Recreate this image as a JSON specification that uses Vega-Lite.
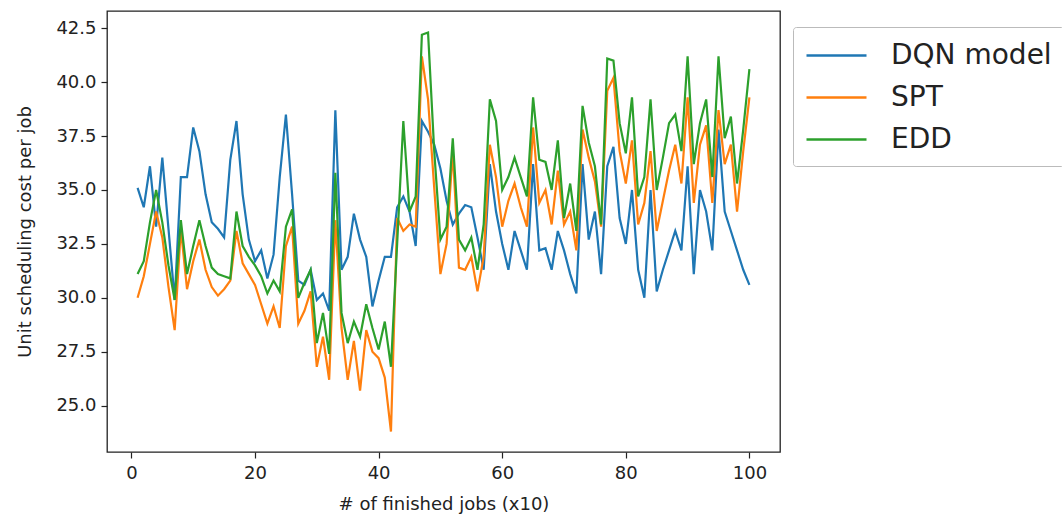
{
  "$schema": "https://vega.github.io/schema/vega-lite/v6.json",
  "width": 673,
  "height": 441,
  "autosize": {"type": "none"},
  "padding": {"left": 107, "top": 11, "right": 282, "bottom": 66},
  "background": "white",
  "config": {
    "font": "DejaVu Sans",
    "view": {"stroke": "#222", "strokeWidth": 1.3},
    "axis": {
      "grid": false,
      "domain": false,
      "tickColor": "#222",
      "tickSize": 6,
      "tickWidth": 1.2,
      "labelFont": "DejaVu Sans",
      "labelFontSize": 18,
      "labelColor": "#222",
      "titleFont": "DejaVu Sans",
      "titleFontSize": 18,
      "titleFontWeight": "normal",
      "titleColor": "#222"
    }
  },
  "data": {
    "values": [
      {"x": 1, "DQN model": 35.1, "SPT": 30.0, "EDD": 31.1},
      {"x": 2, "DQN model": 34.2, "SPT": 31.0, "EDD": 31.7},
      {"x": 3, "DQN model": 36.1, "SPT": 32.5, "EDD": 33.5},
      {"x": 4, "DQN model": 33.3, "SPT": 34.0, "EDD": 35.0},
      {"x": 5, "DQN model": 36.5, "SPT": 32.8, "EDD": 33.5},
      {"x": 6, "DQN model": 33.2, "SPT": 30.5, "EDD": 31.5},
      {"x": 7, "DQN model": 29.9, "SPT": 28.5, "EDD": 29.9},
      {"x": 8, "DQN model": 35.6, "SPT": 33.2, "EDD": 33.6},
      {"x": 9, "DQN model": 35.6, "SPT": 30.4, "EDD": 31.1},
      {"x": 10, "DQN model": 37.9, "SPT": 31.7, "EDD": 32.4},
      {"x": 11, "DQN model": 36.8, "SPT": 32.7, "EDD": 33.6},
      {"x": 12, "DQN model": 34.8, "SPT": 31.3, "EDD": 32.4},
      {"x": 13, "DQN model": 33.5, "SPT": 30.5, "EDD": 31.4},
      {"x": 14, "DQN model": 33.2, "SPT": 30.1, "EDD": 31.1},
      {"x": 15, "DQN model": 32.8, "SPT": 30.4, "EDD": 31.0},
      {"x": 16, "DQN model": 36.4, "SPT": 30.8, "EDD": 30.9},
      {"x": 17, "DQN model": 38.2, "SPT": 33.1, "EDD": 34.0},
      {"x": 18, "DQN model": 34.8, "SPT": 31.6, "EDD": 32.4},
      {"x": 19, "DQN model": 32.7, "SPT": 31.1, "EDD": 31.9},
      {"x": 20, "DQN model": 31.7, "SPT": 30.6, "EDD": 31.5},
      {"x": 21, "DQN model": 32.2, "SPT": 29.7, "EDD": 31.0},
      {"x": 22, "DQN model": 30.9, "SPT": 28.8, "EDD": 30.2},
      {"x": 23, "DQN model": 32.0, "SPT": 29.6, "EDD": 30.8},
      {"x": 24, "DQN model": 35.6, "SPT": 28.6, "EDD": 30.3},
      {"x": 25, "DQN model": 38.5, "SPT": 32.4, "EDD": 33.3},
      {"x": 26, "DQN model": 34.8, "SPT": 33.3, "EDD": 34.1},
      {"x": 27, "DQN model": 30.8, "SPT": 28.8, "EDD": 30.0},
      {"x": 28, "DQN model": 30.6, "SPT": 29.4, "EDD": 30.7},
      {"x": 29, "DQN model": 31.3, "SPT": 30.3, "EDD": 31.3},
      {"x": 30, "DQN model": 29.9, "SPT": 26.8, "EDD": 27.9},
      {"x": 31, "DQN model": 30.2, "SPT": 28.2, "EDD": 29.3},
      {"x": 32, "DQN model": 29.4, "SPT": 26.2, "EDD": 27.4},
      {"x": 33, "DQN model": 38.7, "SPT": 33.6, "EDD": 35.8},
      {"x": 34, "DQN model": 31.3, "SPT": 28.6, "EDD": 29.3},
      {"x": 35, "DQN model": 31.9, "SPT": 26.2, "EDD": 27.9},
      {"x": 36, "DQN model": 33.9, "SPT": 28.0, "EDD": 28.9},
      {"x": 37, "DQN model": 32.7, "SPT": 25.7, "EDD": 28.2},
      {"x": 38, "DQN model": 31.9, "SPT": 28.5, "EDD": 29.7},
      {"x": 39, "DQN model": 29.6, "SPT": 27.5, "EDD": 28.6},
      {"x": 40, "DQN model": 30.8, "SPT": 27.2, "EDD": 27.6},
      {"x": 41, "DQN model": 31.9, "SPT": 26.3, "EDD": 28.9},
      {"x": 42, "DQN model": 31.9, "SPT": 23.8, "EDD": 26.8},
      {"x": 43, "DQN model": 34.2, "SPT": 33.7, "EDD": 32.5},
      {"x": 44, "DQN model": 34.7, "SPT": 33.1, "EDD": 38.2},
      {"x": 45, "DQN model": 34.0, "SPT": 33.4, "EDD": 34.0},
      {"x": 46, "DQN model": 32.4, "SPT": 33.3, "EDD": 34.7},
      {"x": 47, "DQN model": 38.2, "SPT": 41.2, "EDD": 42.2},
      {"x": 48, "DQN model": 37.7, "SPT": 39.2, "EDD": 42.3},
      {"x": 49, "DQN model": 37.1, "SPT": 35.1, "EDD": 36.8},
      {"x": 50, "DQN model": 36.0, "SPT": 31.1, "EDD": 32.7},
      {"x": 51, "DQN model": 34.5, "SPT": 32.5, "EDD": 33.3},
      {"x": 52, "DQN model": 33.4, "SPT": 36.8, "EDD": 37.4},
      {"x": 53, "DQN model": 33.9, "SPT": 31.4, "EDD": 32.7},
      {"x": 54, "DQN model": 34.3, "SPT": 31.3, "EDD": 32.2},
      {"x": 55, "DQN model": 34.2, "SPT": 31.9, "EDD": 32.8},
      {"x": 56, "DQN model": 32.8, "SPT": 30.3, "EDD": 31.3},
      {"x": 57, "DQN model": 31.3, "SPT": 31.9, "EDD": 33.4},
      {"x": 58, "DQN model": 36.2, "SPT": 37.1, "EDD": 39.2},
      {"x": 59, "DQN model": 34.0, "SPT": 35.6, "EDD": 38.2},
      {"x": 60, "DQN model": 32.5, "SPT": 33.3, "EDD": 35.0},
      {"x": 61, "DQN model": 31.3, "SPT": 34.5, "EDD": 35.6},
      {"x": 62, "DQN model": 33.1, "SPT": 35.3, "EDD": 36.5},
      {"x": 63, "DQN model": 32.2, "SPT": 34.2, "EDD": 35.6},
      {"x": 64, "DQN model": 31.3, "SPT": 33.3, "EDD": 34.7},
      {"x": 65, "DQN model": 36.2, "SPT": 37.9, "EDD": 39.3},
      {"x": 66, "DQN model": 32.2, "SPT": 34.4, "EDD": 36.4},
      {"x": 67, "DQN model": 32.3, "SPT": 35.0, "EDD": 36.3},
      {"x": 68, "DQN model": 31.3, "SPT": 33.4, "EDD": 35.0},
      {"x": 69, "DQN model": 33.1, "SPT": 35.9, "EDD": 37.3},
      {"x": 70, "DQN model": 32.2, "SPT": 33.4, "EDD": 33.7},
      {"x": 71, "DQN model": 31.1, "SPT": 34.0, "EDD": 35.3},
      {"x": 72, "DQN model": 30.2, "SPT": 32.2, "EDD": 33.1},
      {"x": 73, "DQN model": 36.2, "SPT": 37.8, "EDD": 38.9},
      {"x": 74, "DQN model": 32.7, "SPT": 36.5, "EDD": 37.2},
      {"x": 75, "DQN model": 34.0, "SPT": 35.4, "EDD": 36.1},
      {"x": 76, "DQN model": 31.1, "SPT": 33.3, "EDD": 33.4},
      {"x": 77, "DQN model": 36.1, "SPT": 39.6, "EDD": 41.1},
      {"x": 78, "DQN model": 37.0, "SPT": 40.2, "EDD": 41.0},
      {"x": 79, "DQN model": 33.7, "SPT": 36.8, "EDD": 38.1},
      {"x": 80, "DQN model": 32.5, "SPT": 35.3, "EDD": 36.7},
      {"x": 81, "DQN model": 35.0, "SPT": 37.3, "EDD": 39.3},
      {"x": 82, "DQN model": 31.3, "SPT": 33.4, "EDD": 34.7},
      {"x": 83, "DQN model": 30.0, "SPT": 34.4, "EDD": 35.6},
      {"x": 84, "DQN model": 35.0, "SPT": 36.8, "EDD": 39.2},
      {"x": 85, "DQN model": 30.3, "SPT": 33.1, "EDD": 35.0},
      {"x": 86, "DQN model": 31.3, "SPT": 34.5, "EDD": 36.5},
      {"x": 87, "DQN model": 32.2, "SPT": 35.9, "EDD": 38.1},
      {"x": 88, "DQN model": 33.1, "SPT": 37.1, "EDD": 38.5},
      {"x": 89, "DQN model": 32.2, "SPT": 35.3, "EDD": 36.8},
      {"x": 90, "DQN model": 36.1, "SPT": 39.3, "EDD": 41.2},
      {"x": 91, "DQN model": 31.1, "SPT": 34.4, "EDD": 36.2},
      {"x": 92, "DQN model": 35.0, "SPT": 37.1, "EDD": 38.1},
      {"x": 93, "DQN model": 34.0, "SPT": 38.0, "EDD": 39.2},
      {"x": 94, "DQN model": 32.2, "SPT": 34.4, "EDD": 35.6},
      {"x": 95, "DQN model": 37.8, "SPT": 38.7, "EDD": 41.2},
      {"x": 96, "DQN model": 34.0, "SPT": 36.2, "EDD": 37.4},
      {"x": 97, "DQN model": 33.1, "SPT": 37.1, "EDD": 38.4},
      {"x": 98, "DQN model": 32.2, "SPT": 34.0, "EDD": 35.3},
      {"x": 99, "DQN model": 31.3, "SPT": 36.8, "EDD": 37.8},
      {"x": 100, "DQN model": 30.6, "SPT": 39.3, "EDD": 40.6}
    ]
  },
  "transform": [
    {"fold": ["DQN model", "SPT", "EDD"], "as": ["series", "cost"]}
  ],
  "mark": {"type": "line", "strokeWidth": 2.2, "clip": true},
  "encoding": {
    "x": {
      "field": "x",
      "type": "quantitative",
      "scale": {"domain": [-3.95, 104.95], "nice": false, "zero": false},
      "axis": {"values": [0, 20, 40, 60, 80, 100], "title": "# of finished jobs (x10)", "labelPadding": 6, "titlePadding": 13}
    },
    "y": {
      "field": "cost",
      "type": "quantitative",
      "scale": {"domain": [22.85, 43.3], "nice": false, "zero": false},
      "axis": {"values": [25, 27.5, 30, 32.5, 35, 37.5, 40, 42.5], "format": ".1f", "title": "Unit scheduling cost per job", "labelPadding": 5, "titlePadding": 21}
    },
    "color": {
      "field": "series",
      "type": "nominal",
      "sort": ["DQN model", "SPT", "EDD"],
      "scale": {"domain": ["DQN model", "SPT", "EDD"], "range": ["#1f77b4", "#ff7f0e", "#2ca02c"]},
      "legend": {
        "title": null,
        "orient": "none",
        "legendX": 686,
        "legendY": 16,
        "symbolType": "M-1,0H3",
        "symbolSize": 900,
        "symbolStrokeWidth": 2.5,
        "labelFontSize": 28,
        "labelFont": "DejaVu Sans",
        "labelColor": "#222",
        "labelLimit": 500,
        "labelOffset": 53,
        "rowPadding": 11,
        "padding": 12,
        "fillColor": "white",
        "strokeColor": "#bbb",
        "cornerRadius": 3
      }
    }
  }
}
